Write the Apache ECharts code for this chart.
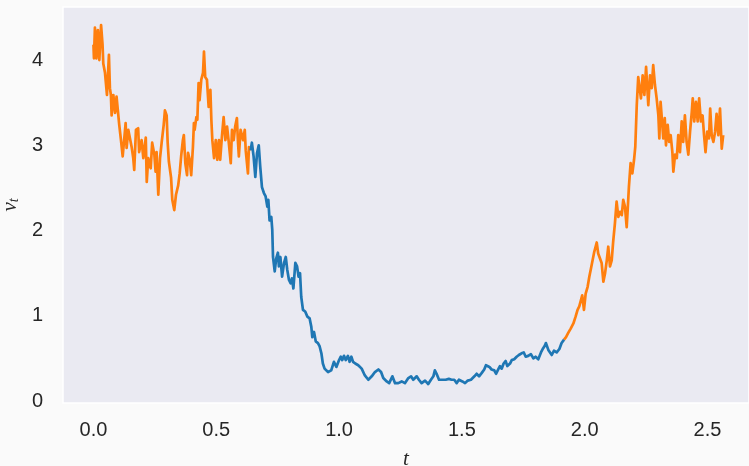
<!DOCTYPE html>
<html>
<head>
<meta charset="utf-8">
<title>v_t path</title>
<script src="https://cdn.jsdelivr.net/npm/echarts@6/dist/echarts.min.js"></script>
<style>
  html, body { margin: 0; padding: 0; background: #fafafa; }
  #chart { width: 749px; height: 466px; }
</style>
</head>
<body>
<div id="chart"></div>
<script>
// Path of v_t, split into three time segments (orange / blue / orange)
const tEarly = [0.000,0.002,0.006,0.012,0.018,0.024,0.031,0.037,0.040,0.047,0.055,0.063,0.067,0.071,0.074,0.081,0.088,0.094,0.101,0.105,0.112,0.119,0.131,0.135,0.142,0.156,0.162,0.166,0.173,0.182,0.186,0.196,0.203,0.213,0.217,0.223,0.233,0.239,0.248,0.253,0.257,0.264,0.271,0.278,0.286,0.291,0.298,0.302,0.307,0.316,0.321,0.329,0.336,0.345,0.351,0.357,0.364,0.368,0.374,0.381,0.385,0.392,0.398,0.405,0.409,0.412,0.419,0.423,0.428,0.432,0.439,0.446,0.450,0.455,0.462,0.469,0.476,0.480,0.484,0.491,0.498,0.504,0.511,0.516,0.523,0.530,0.537,0.544,0.550,0.559,0.564,0.571,0.577,0.584,0.588,0.592,0.599,0.609,0.616,0.620,0.625,0.629,0.633,0.640];
const vEarly = [4.18,4.02,4.38,4.02,4.35,4.00,4.41,4.18,3.96,3.85,3.59,4.06,3.67,3.59,3.35,3.59,3.38,3.57,3.55,3.24,3.06,2.87,3.26,2.97,3.18,2.97,2.85,2.71,3.18,3.20,2.92,3.06,2.85,3.09,2.57,2.85,2.73,3.03,2.89,2.69,2.92,2.42,2.85,3.04,3.24,3.41,3.35,3.04,2.81,2.62,2.36,2.24,2.42,2.53,2.67,2.87,3.06,3.12,2.79,2.65,2.91,2.83,2.65,2.98,3.26,3.18,3.33,3.30,3.73,3.53,3.77,3.85,4.10,3.80,3.77,3.45,3.65,3.30,3.06,2.85,3.06,2.83,3.06,2.83,3.10,3.33,3.06,3.22,3.06,2.79,3.18,3.06,3.22,3.32,3.06,2.87,3.18,3.06,3.18,2.94,2.79,2.67,2.98,2.94];

const tMid = [0.640,0.645,0.652,0.659,0.666,0.673,0.679,0.686,0.694,0.701,0.708,0.712,0.717,0.724,0.728,0.731,0.738,0.744,0.751,0.755,0.761,0.768,0.776,0.783,0.789,0.796,0.803,0.808,0.814,0.822,0.829,0.835,0.841,0.846,0.853,0.862,0.871,0.880,0.887,0.891,0.898,0.905,0.914,0.921,0.928,0.934,0.941,0.955,0.968,0.979,0.989,1.000,1.007,1.013,1.020,1.027,1.036,1.043,1.050,1.057,1.066,1.078,1.092,1.105,1.119,1.133,1.146,1.160,1.171,1.180,1.194,1.204,1.217,1.228,1.241,1.255,1.268,1.282,1.293,1.302,1.316,1.325,1.336,1.350,1.363,1.374,1.384,1.390,1.397,1.407,1.420,1.434,1.447,1.458,1.469,1.479,1.488,1.502,1.513,1.524,1.537,1.551,1.560,1.570,1.581,1.591,1.598,1.605,1.612,1.621,1.632,1.639,1.648,1.655,1.662,1.670,1.678,1.685,1.696,1.703,1.713,1.723,1.732,1.743,1.752,1.760,1.770,1.781,1.791,1.800,1.811,1.822,1.831,1.838,1.842,1.852,1.866,1.875,1.886,1.897,1.906,1.916];
const vMid = [2.94,3.03,2.87,2.63,2.91,3.00,2.75,2.51,2.44,2.40,2.28,2.36,2.12,2.16,2.01,1.69,1.52,1.67,1.74,1.58,1.69,1.46,1.62,1.69,1.54,1.42,1.38,1.44,1.32,1.62,1.58,1.46,1.50,1.22,1.07,1.05,0.99,0.97,0.87,0.75,0.81,0.70,0.68,0.64,0.56,0.44,0.38,0.34,0.36,0.46,0.40,0.48,0.52,0.48,0.53,0.48,0.53,0.46,0.52,0.46,0.44,0.42,0.38,0.30,0.25,0.29,0.34,0.37,0.34,0.27,0.23,0.21,0.29,0.21,0.21,0.23,0.21,0.27,0.29,0.25,0.29,0.25,0.21,0.24,0.20,0.25,0.29,0.36,0.32,0.25,0.25,0.25,0.26,0.25,0.25,0.21,0.25,0.23,0.21,0.24,0.25,0.29,0.32,0.29,0.33,0.37,0.42,0.44,0.40,0.37,0.36,0.32,0.37,0.41,0.38,0.44,0.47,0.41,0.44,0.48,0.49,0.52,0.54,0.56,0.57,0.52,0.53,0.55,0.50,0.52,0.49,0.57,0.62,0.65,0.68,0.60,0.54,0.59,0.57,0.61,0.68,0.72];

const tLate = [1.916,1.924,1.933,1.943,1.954,1.963,1.971,1.978,1.985,1.990,1.997,2.004,2.012,2.019,2.026,2.033,2.039,2.049,2.055,2.062,2.069,2.076,2.083,2.090,2.096,2.103,2.110,2.116,2.123,2.130,2.137,2.144,2.151,2.157,2.164,2.171,2.175,2.180,2.187,2.194,2.201,2.206,2.212,2.218,2.225,2.229,2.236,2.243,2.250,2.255,2.259,2.266,2.273,2.279,2.286,2.293,2.300,2.304,2.309,2.315,2.320,2.326,2.331,2.338,2.344,2.350,2.357,2.361,2.368,2.375,2.381,2.388,2.395,2.401,2.408,2.415,2.422,2.429,2.436,2.440,2.446,2.453,2.460,2.466,2.473,2.480,2.486,2.492,2.499,2.506,2.511,2.517,2.524,2.531,2.537,2.544,2.551,2.558,2.564];
const vLate = [0.72,0.75,0.80,0.85,0.91,0.99,1.07,1.11,1.09,1.24,1.07,1.26,1.34,1.46,1.56,1.58,1.75,1.86,1.73,1.75,1.62,1.40,1.50,1.65,1.81,1.58,1.65,1.87,2.08,2.34,2.16,2.22,2.18,2.36,2.28,2.04,2.24,2.51,2.79,2.67,2.83,2.98,3.47,3.80,3.82,3.55,3.82,3.59,3.92,3.67,3.47,3.82,3.67,3.94,3.71,3.55,3.35,3.08,3.51,3.28,3.08,3.32,3.00,3.24,3.04,3.12,2.92,2.69,2.89,2.85,3.12,2.92,3.28,3.04,3.35,3.04,2.89,3.16,3.39,3.55,3.28,3.51,3.28,3.55,3.28,3.35,3.12,2.92,3.16,3.08,3.43,3.12,3.04,3.16,3.37,3.12,3.43,2.96,3.12];

// Tick labels
const xTicks = [0.0, 0.5, 1.0, 1.5, 2.0, 2.5];
const yTicks = [0, 1, 2, 3, 4];

const ORANGE = '#ff7f0e';
const BLUE = '#1f77b4';
const TEXT = '#262626';

function pairs(ts, vs) {
  const n = Math.min(ts.length, vs.length);
  const out = [];
  for (let i = 0; i < n; i++) out.push([ts[i], vs[i]]);
  return out;
}

function pathSeries(name, ts, vs, color) {
  return {
    name: name,
    type: 'line',
    data: pairs(ts, vs),
    showSymbol: false,
    symbol: 'none',
    lineStyle: { color: color, width: 2.7, join: 'round' },
    itemStyle: { color: color },
    animation: false
  };
}

const chart = echarts.init(document.getElementById('chart'), null, { renderer: 'canvas' });

chart.setOption({
  backgroundColor: '#fafafa',
  animation: false,
  grid: {
    left: 63, top: 7, right: 0, bottom: 63,
    show: true,
    backgroundColor: '#eaeaf2',
    borderColor: '#ffffff',
    borderWidth: 1.5,
    outerBoundsMode: 'none'
  },
  xAxis: {
    type: 'value',
    min: -0.124,
    max: 2.669,
    name: 't',
    nameLocation: 'middle',
    nameGap: 46,
    nameTextStyle: {
      fontFamily: 'Liberation Serif',
      fontStyle: 'italic',
      fontSize: 21,
      color: TEXT
    },
    axisLine: { show: false },
    axisTick: { show: false },
    splitLine: { show: false },
    axisLabel: {
      customValues: xTicks,
      formatter: v => v.toFixed(1),
      fontFamily: 'Liberation Sans',
      fontSize: 20,
      color: TEXT,
      margin: 17
    }
  },
  yAxis: {
    type: 'value',
    min: -0.023,
    max: 4.622,
    name: '{v|v}{s|t}',
    nameLocation: 'middle',
    nameRotate: 90,
    nameGap: 34,
    nameTextStyle: {
      color: TEXT,
      rich: {
        v: { fontFamily: 'Liberation Serif', fontStyle: 'italic', fontSize: 21, lineHeight: 21, verticalAlign: 'top', color: TEXT },
        s: { fontFamily: 'Liberation Serif', fontStyle: 'italic', fontSize: 14, lineHeight: 14, padding: [9, 0, 0, 0], verticalAlign: 'bottom', color: TEXT }
      }
    },
    axisLine: { show: false },
    axisTick: { show: false },
    splitLine: { show: false },
    axisLabel: {
      customValues: yTicks,
      formatter: v => String(v),
      fontFamily: 'Liberation Sans',
      fontSize: 20,
      color: TEXT,
      margin: 20
    }
  },
  series: [
    pathSeries('early', tEarly, vEarly, ORANGE),
    pathSeries('late', tLate, vLate, ORANGE),
    pathSeries('middle', tMid, vMid, BLUE)
  ]
});
</script>
</body>
</html>
